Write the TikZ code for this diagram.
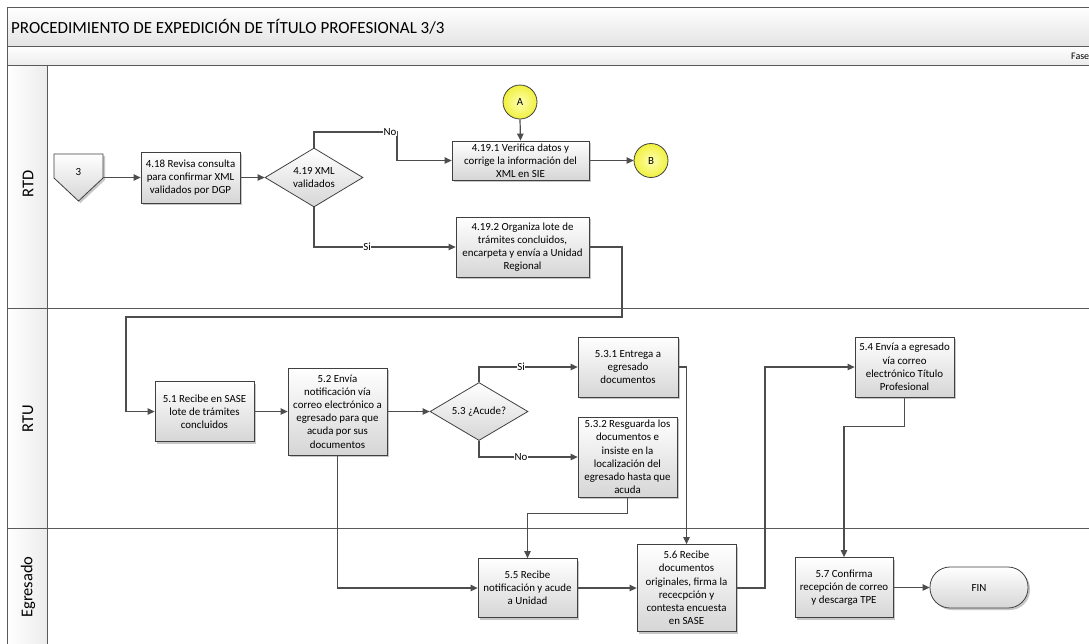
\documentclass[tikz,border=0pt]{standalone}
\usepackage{fontspec}
\setmainfont{Carlito}
\usetikzlibrary{arrows.meta,shapes.geometric,shadows,calc}
\definecolor{boxborder}{HTML}{404040}
\definecolor{linecol}{HTML}{4D4D4D}
\definecolor{boxgray}{HTML}{D6D6D6}
\definecolor{framecol}{HTML}{5A5A5A}
\definecolor{titlegray}{HTML}{E4E4E4}
\definecolor{lanefill}{HTML}{ECECEC}
\definecolor{yin}{HTML}{FFFFB0}
\definecolor{yout}{HTML}{F0F040}
\newcommand{\boxfont}{\fontsize{10.9}{13.2}\selectfont}
\newcommand{\lblfont}{\fontsize{10.9}{12}\selectfont}
\tikzset{
  frame/.style={draw=framecol, line width=0.9pt},
  shad/.style={general shadow={shadow xshift=2pt, shadow yshift=-2pt, fill=black, opacity=0.22}},
  proc/.style={rectangle, draw=boxborder, line width=0.8pt, top color=white, bottom color=boxgray, shad, align=center, font=\boxfont, inner sep=0pt},
  dec/.style={diamond, aspect=1.66, draw=boxborder, line width=0.8pt, top color=white, bottom color=boxgray, align=center, font=\boxfont, inner sep=0pt},
  onpage/.style={circle, draw=boxborder, line width=0.8pt, inner color=yin, outer color=yout, font=\boxfont, minimum size=34pt, inner sep=0pt},
  term/.style={rectangle, rounded corners=20pt, draw=boxborder, line width=0.8pt, top color=white, bottom color=boxgray, shad, font=\boxfont, minimum width=98pt, minimum height=41pt},
  conn/.style={draw=linecol, line width=1.2pt, -{Triangle[length=7pt,width=6.5pt]}},
  lbl/.style={fill=white, inner sep=0.5pt, font=\lblfont},
  lane/.style={font=\fontsize{16.5}{18}\selectfont, rotate=90}
}
\begin{document}
\begin{tikzpicture}[x=1pt,y=-1pt]
\useasboundingbox (0,0) rectangle (1089,643);
\clip (0,0) rectangle (1089,643);
\fill[white] (0,0) rectangle (1089,643);
% frame
\draw[frame, top color=white, bottom color=titlegray] (7,7) rectangle (1100,46);
\draw[frame, top color=white, bottom color=titlegray!70!white] (7,46) rectangle (1100,65);
\draw[frame] (7,65) rectangle (1100,660);
\draw[frame, left color=white, right color=lanefill] (7,65) rectangle (47,660);
\draw[frame] (7,308) -- (1100,308);
\draw[frame] (7,528) -- (1100,528);
\node (title) [anchor=west, font=\fontsize{17}{19}\selectfont, inner sep=0pt] at (11,27) {PROCEDIMIENTO DE EXPEDICIÓN DE TÍTULO PROFESIONAL 3/3};
\node (fase) [anchor=west, font=\fontsize{10}{11}\selectfont, inner sep=0pt] at (1071,56) {Fase};
\node (lrtd) [lane] at (28,184) {RTD};
\node (lrtu) [lane] at (28,419) {RTU};
\node (legr) [lane] at (28,587) {Egresado};

% RTD lane
\path[draw=boxborder, line width=0.8pt, top color=white, bottom color=boxgray, shad] (54,154) -- (103,154) -- (103,178) -- (78.5,201) -- (54,178) -- cycle;
\node (n3) [minimum width=49pt, minimum height=47pt, inner sep=0pt] at (78.5,177.5) {};
\node (n3t) [font=\boxfont, inner sep=0pt] at (78.5,172) {3};
\node (b418) [proc, minimum width=99pt, minimum height=51pt] at (190.5,177.5) {4.18 Revisa consulta\\para confirmar XML\\validados por DGP};
\node (d419) [dec, minimum width=98pt, minimum height=59pt] at (314,177.5) {4.19 XML\\validados};
\node (b4191) [proc, minimum width=137pt, minimum height=39pt] at (520.5,160.5) {4.19.1 Verifica datos y\\corrige la información del\\XML en SIE};
\node (cA) [onpage] at (520,102) {A};
\node (cB) [onpage] at (651,160.5) {B};
\node (b4192) [proc, minimum width=133pt, minimum height=60pt] at (522.5,247) {4.19.2 Organiza lote de\\trámites concluidos,\\encarpeta y envía a Unidad\\Regional};

% RTU lane
\node (b51) [proc, minimum width=99pt, minimum height=60pt] at (204.5,411.5) {5.1 Recibe en SASE\\lote de trámites\\concluidos};
\node (b52) [proc, minimum width=99pt, minimum height=87pt] at (337.5,411.5) {5.2 Envía\\notificación vía\\correo electrónico a\\egresado para que\\acuda por sus\\documentos};
\node (d53) [dec, minimum width=98pt, minimum height=58pt] at (479,411.5) {5.3 ¿Acude?};
\node (b531) [proc, minimum width=100pt, minimum height=60pt] at (628,367) {5.3.1 Entrega a\\egresado\\documentos};
\node (b532) [proc, minimum width=99pt, minimum height=80pt] at (627.5,457) {5.3.2 Resguarda los\\documentos e\\insiste en la\\localización del\\egresado hasta que\\acuda};
\node (b54) [proc, minimum width=99pt, minimum height=60pt] at (904.5,367) {5.4 Envía a egresado\\vía correo\\electrónico Título\\Profesional};

% Egresado lane
\node (b55) [proc, minimum width=99pt, minimum height=59pt] at (527.5,588) {5.5 Recibe\\notificación y acude\\a Unidad};
\node (b56) [proc, minimum width=99pt, minimum height=87pt] at (686.5,588) {5.6 Recibe\\documentos\\originales, firma la\\rececpción y\\contesta encuesta\\en SASE};
\node (b57) [proc, minimum width=98pt, minimum height=60pt] at (844,587.5) {5.7 Confirma\\recepción de correo\\y descarga TPE};
\node (fin) [term] at (979,587.5) {FIN};

% connectors
\draw[conn] (n3.east) -- (b418.west);
\draw[conn] (b418.east) -- (d419.west);
\draw[conn] (d419.north) |- (397,132) |- (b4191.west);
\node (lno1) [lbl] at (390,132) {No};
\draw[conn] (cA.south) -- (b4191.north);
\draw[conn] (b4191.east) -- (cB.west);
\draw[conn] (d419.south) |- (b4192.west);
\node (lsi1) [lbl] at (367,247) {Si};
\draw[conn] (b4192.east) -| (622,317) -- (126,317) |- (b51.west);
\draw[conn] (b51.east) -- (b52.west);
\draw[conn] (b52.east) -- (d53.west);
\draw[conn] (d53.north) |- (b531.west);
\node (lsi2) [lbl] at (521,367) {Si};
\draw[conn] (d53.south) |- (b532.west);
\node (lno2) [lbl] at (521,457) {No};
\draw[conn] (b531.east) -| (b56.north);
\draw[conn] (b532.south) -- ++(0,16) -| (b55.north);
\draw[conn] (b52.south) |- (b55.west);
\draw[conn] (b55.east) -- (b56.west);
\draw[conn] (b56.east) -- (765,588) |- (b54.west);
\draw[conn] (b54.south) -- ++(0,29) -| (b57.north);
\draw[conn] (b57.east) -- (fin.west);
\end{tikzpicture}
\end{document}
